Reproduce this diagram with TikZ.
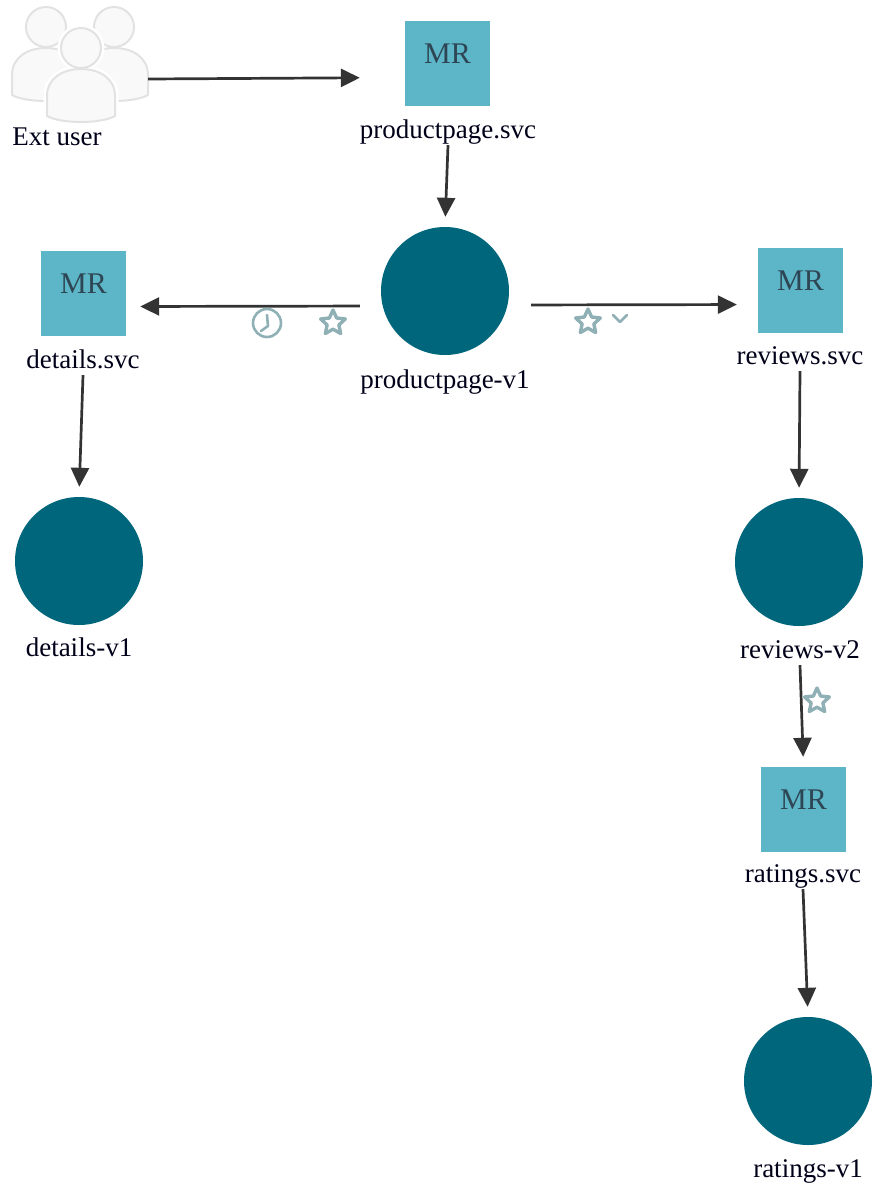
\documentclass[tikz,border=0pt]{standalone}
\usepackage{fontspec}
\setmainfont{Liberation Serif}
\usepackage{tikz}
\usetikzlibrary{shapes.geometric,arrows.meta}

\definecolor{svcblue}{HTML}{5DB5C8}
\definecolor{wlteal}{HTML}{00667B}
\definecolor{badgegray}{HTML}{8FB0B5}
\definecolor{mrtext}{HTML}{2E4654}
\definecolor{arrowgray}{HTML}{333333}
\definecolor{userfill}{HTML}{F9F9F9}
\definecolor{userline}{HTML}{E2E2E2}

\begin{document}
\begin{tikzpicture}[x=1pt, y=-1pt]
  \tikzstyle{service} = [rectangle, minimum size=85pt, inner sep=0pt, fill=svcblue, text=mrtext, text depth=19pt, font=\fontsize{30}{34}\selectfont]
  \tikzstyle{workload} = [circle, minimum size=128pt, inner sep=0pt, fill=wlteal]
  \tikzstyle{tag} = [inner sep=0pt, text height=20pt, text depth=7pt, text=black!90!blue, font=\fontsize{27}{32}\selectfont]
  \tikzstyle{arrow} = [line width=2.7pt, draw=arrowgray, -{Triangle[length=19pt,width=18pt]}]
  \tikzstyle{starbadge} = [star, star points=5, star point ratio=2.1, minimum size=26pt, inner sep=0pt, draw=badgegray, line width=3.4pt, line join=round]
  \tikzstyle{badge} = [draw=badgegray, line width=2.6pt, line cap=round, line join=round]
  \useasboundingbox (0,0) rectangle (891,1200);

  % external user icon
  \foreach \hx/\hy in {46/27, 114/27, 81/48} {
    \begin{scope}[shift={(\hx,\hy)}]
      \foreach \col/\wid in {white/7pt, userline/2pt} {
        \draw [draw=\col, line width=\wid, fill=userfill, line join=round] (-34,68) -- (-34,48) .. controls (-34,30) and (-18,21) .. (0,21) .. controls (18,21) and (34,30) .. (34,48) -- (34,68) .. controls (20,76) and (-20,76) .. (-34,68) -- cycle;
        \draw [draw=\col, line width=\wid, fill=userfill] (0,0) circle (20);
      }
    \end{scope}
  }
  \node (extuser) [inner sep=0pt, minimum width=136pt] at (80,79) {};
  \node (extlabel) [tag] at (57,138.5) {Ext user};

  % services
  \node (ppsvc) [service] at (447.5,63.5) {MR};
  \node (dsvc) [service] at (83.5,293.5) {MR};
  \node (rsvc) [service] at (800.5,290.5) {MR};
  \node (rtsvc) [service] at (803.5,809.5) {MR};
  \node (ppsvclabel) [tag] at (448,131.5) {productpage.svc};
  \node (dsvclabel) [tag] at (83,361.5) {details.svc};
  \node (rsvclabel) [tag] at (800,357.5) {reviews.svc};
  \node (rtsvclabel) [tag] at (803,875.5) {ratings.svc};

  % workloads
  \node (ppwl) [workload] at (445,291) {};
  \node (dwl) [workload] at (79,561) {};
  \node (rwl) [workload] at (799,562) {};
  \node (rtwl) [workload] at (808,1081) {};
  \node (ppwllabel) [tag] at (445,381.5) {productpage-v1};
  \node (dwllabel) [tag] at (79,649.5) {details-v1};
  \node (rwllabel) [tag] at (800,651.5) {reviews-v2};
  \node (rtwllabel) [tag] at (808,1170.5) {ratings-v1};

  % edges
  \draw [arrow, shorten >=45pt] (extuser.east) -- ([yshift=-14pt]ppsvc.west);
  \draw [arrow, shorten >=10pt] (ppsvclabel.south) -- (ppwl.north);
  \draw [arrow, shorten <=21pt, shorten >=14pt] ([yshift=-15pt]ppwl.west) -- ([yshift=-13pt]dsvc.east);
  \draw [arrow, shorten <=22pt, shorten >=21pt] ([yshift=-14pt]ppwl.east) -- ([yshift=-14pt]rsvc.west);
  \draw [arrow, shorten >=10pt] (dsvclabel.south) -- (dwl.north);
  \draw [arrow, shorten >=10pt] (rsvclabel.south) -- (rwl.north);
  \draw [arrow, shorten >=10pt] (rwllabel.south) -- (rtsvc.north);
  \draw [arrow, shorten >=10pt] (rtsvclabel.south) -- (rtwl.north);

  % edge badges
  \node (clock) [circle, minimum size=28pt, inner sep=0pt, draw=badgegray, line width=2.6pt] at (267,323) {};
  \draw [badge] (267,315) -- (268,326) -- (261,331);
  \node (star1) [starbadge] at (333,323) {};
  \node (star2) [starbadge] at (588,322) {};
  \node (star3) [starbadge] at (817,701) {};
  \draw [badge] (613,315) -- (620,322) -- (627,315);
\end{tikzpicture}
\end{document}
